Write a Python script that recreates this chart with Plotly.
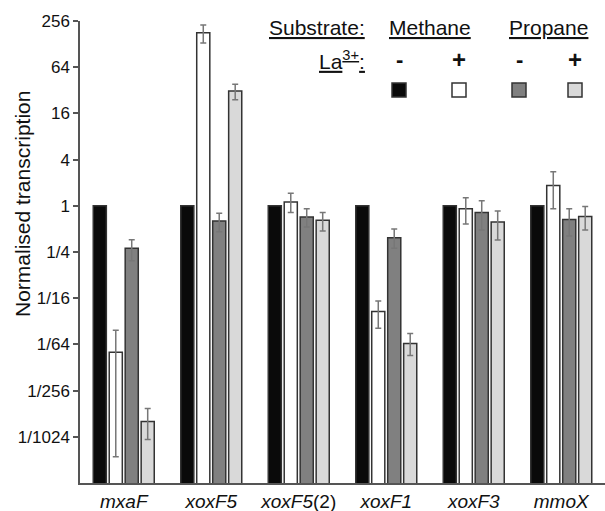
import plotly.graph_objects as go

categories = ["mxaF", "xoxF5", "xoxF5(2)", "xoxF1", "xoxF3", "mmoX"]
cat_labels = ["<i>mxaF</i>", "<i>xoxF5</i>", "<i>xoxF5</i>(2)", "<i>xoxF1</i>", "<i>xoxF3</i>", "<i>mmoX</i>"]

methane_minus = [1, 1, 1, 1, 1, 1]

methane_plus = [0.0123, 180, 1.12, 0.0418, 0.914, 1.84]
methane_plus_hi = [0.0239, 227.5, 1.46, 0.0575, 1.27, 2.77]
methane_plus_lo = [0.000535, 132.5, 0.818, 0.0254, 0.578, 0.914]

propane_minus = [0.279, 0.633, 0.717, 0.384, 0.818, 0.664]
propane_minus_hi = [0.361, 0.801, 0.914, 0.497, 1.165, 0.914]
propane_minus_lo = [0.192, 0.460, 0.528, 0.279, 0.483, 0.403]

propane_plus = [0.00155, 31.3, 0.646, 0.0161, 0.616, 0.727]
propane_plus_hi = [0.00229, 38.3, 0.818, 0.0217, 0.858, 0.979]
propane_plus_lo = [0.000899, 24.1, 0.470, 0.0112, 0.358, 0.483]

tick_vals = [256, 64, 16, 4, 1, 1/4, 1/16, 1/64, 1/256, 1/1024]
tick_text = ["256", "64", "16", "4", "1", "1/4", "1/16", "1/64", "1/256", "1/1024"]

colors = ["#0a0a0a", "#ffffff", "#808080", "#d9d9d9"]

W, H = 605, 511
ML, MR, MT, MB = 80, 0, 21, 28
PW, PH = W - ML - MR, H - MT - MB


def px(x):
    return (x - ML) / PW


def py(y):
    return (H - MB - y) / PH


fig = go.Figure()

err_style = dict(type="data", symmetric=False, color="#777777", thickness=1.5, width=3)

series = [
    (methane_minus, None, None),
    (methane_plus, methane_plus_hi, methane_plus_lo),
    (propane_minus, propane_minus_hi, propane_minus_lo),
    (propane_plus, propane_plus_hi, propane_plus_lo),
]

for i, (vals, hi, lo) in enumerate(series):
    kw = {}
    if hi is not None:
        kw["error_y"] = dict(
            array=[h - v for h, v in zip(hi, vals)],
            arrayminus=[v - l for v, l in zip(vals, lo)],
            **err_style,
        )
    fig.add_trace(go.Bar(
        x=categories, y=vals,
        marker=dict(color=colors[i], line=dict(color="#333333", width=1.5)),
        showlegend=False, **kw,
    ))

fig.update_layout(
    width=W, height=H,
    margin=dict(l=ML, r=MR, t=MT, b=MB),
    paper_bgcolor="white", plot_bgcolor="white",
    barmode="group", bargap=0.27, bargroupgap=0.18,
    font=dict(family="Liberation Sans, Arial, sans-serif", color="#111111"),
)

fig.update_xaxes(
    tickvals=categories, ticktext=cat_labels,
    showline=True, linecolor="#555555", linewidth=1.5,
    ticks="", showgrid=False,
    tickfont=dict(size=19),
)

fig.update_yaxes(
    type="log",
    range=[-12 * 0.30103, 8 * 0.30103],
    tickvals=tick_vals, ticktext=tick_text,
    showline=True, linecolor="#555555", linewidth=1.5,
    ticks="outside", ticklen=5, tickcolor="#555555", tickwidth=1.5,
    showgrid=False, zeroline=False,
    tickfont=dict(size=17),
)

# y axis title
fig.add_annotation(
    text="Normalised transcription", textangle=-90,
    xref="paper", yref="paper", x=px(23), y=py(204),
    showarrow=False, font=dict(size=21), xanchor="center", yanchor="middle",
)

# legend block
ufont = dict(size=21, lineposition="under")
legend_items = [
    ("Substrate:", 367, 28, "right", ufont),
    ("Methane", 429.5, 28, "center", ufont),
    ("Propane", 548, 28, "center", ufont),
    ("La<sup>3+</sup>:", 367, 60, "right", ufont),
    ("<b>-</b>", 399, 60, "center", dict(size=22)),
    ("<b>+</b>", 459, 60, "center", dict(size=24)),
    ("<b>-</b>", 519, 60, "center", dict(size=22)),
    ("<b>+</b>", 575, 60, "center", dict(size=24)),
]
for txt, x, y, anc, f in legend_items:
    fig.add_annotation(
        text=txt, xref="paper", yref="paper", x=px(x), y=py(y),
        xanchor=anc, yanchor="middle", showarrow=False, font=f,
    )

for cx, col in zip([399, 459, 519, 575], colors):
    fig.add_shape(
        type="rect", xref="paper", yref="paper",
        x0=px(cx - 7), x1=px(cx + 7), y0=py(97), y1=py(83),
        fillcolor=col, line=dict(color="#333333", width=1.5),
    )

fig.write_html("out.html")
